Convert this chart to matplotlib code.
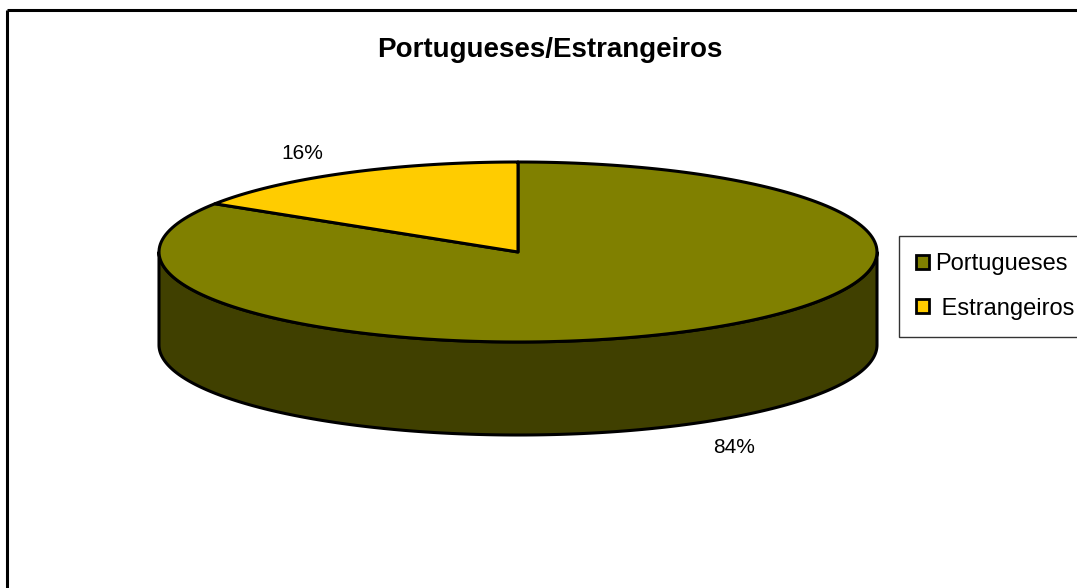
import numpy as np
import matplotlib.pyplot as plt
from matplotlib.patches import Polygon, Patch

# ----- data -----
labels = ["Portugueses", " Estrangeiros"]
values = [84, 16]
colors = ["#808000", "#FFCC00"]
side_colors = ["#404000", "#806600"]
title = "Portugueses/Estrangeiros"

plt.rcParams["font.family"] = ["Liberation Sans", "DejaVu Sans"]

W, H = 1077, 588
fig = plt.figure(figsize=(W / 100, H / 100), dpi=100)
ax = fig.add_axes([0, 0, 1, 1])
ax.set_xlim(0, W)
ax.set_ylim(H, 0)
ax.axis("off")

# pie geometry (pixels)
cx, cy = 518, 252
a, b = 359, 90
depth = 93
lw = 2.2


def arc(t1, t2, n=200, dy=0):
    t = np.radians(np.linspace(t1, t2, n))
    return np.column_stack([cx + a * np.cos(t), cy - b * np.sin(t) + dy])


# slices go clockwise from 12 o'clock
total = float(sum(values))
start = 90.0
slices = []
for v in values:
    sweep = 360.0 * v / total
    slices.append((start - sweep, start))
    start -= sweep

# side walls (front half only)
for (t1, t2), sc in zip(slices, side_colors):
    for k in range(-2, 3):
        lo, hi = max(t1, 180 + 360 * k), min(t2, 360 + 360 * k)
        if hi <= lo:
            continue
        top = arc(lo, hi)
        bot = arc(hi, lo, dy=depth)
        ax.add_patch(Polygon(np.vstack([top, bot]), closed=True, facecolor=sc,
                             edgecolor="black", lw=lw, joinstyle="round", zorder=2))

# top faces
for (t1, t2), c in zip(slices, colors):
    pts = np.vstack([[cx, cy], arc(t1, t2)])
    ax.add_patch(Polygon(pts, closed=True, facecolor=c, edgecolor="black",
                         lw=lw, joinstyle="round", zorder=3))

# percentage labels
for (t1, t2), v in zip(slices, values):
    mid = np.radians((t1 + t2) / 2)
    k = 1.25
    x = cx + k * a * np.cos(mid)
    y = cy - k * b * np.sin(mid)
    if np.sin(mid) < 0:
        y += depth + 4
    ax.text(x, y, f"{v / total * 100:.0f}%", ha="center", va="center", fontsize=15, zorder=4)

# title
fig.text(550 / W, 1 - 50 / H, title, ha="center", va="center", fontsize=20, fontweight="bold")

# chart frame (cropped: only top and left visible)
ax.plot([7, W + 5], [10, 10], color="black", lw=2.2, solid_capstyle="butt", zorder=5)
ax.plot([7, 7], [10, H + 5], color="black", lw=2.2, solid_capstyle="butt", zorder=5)

# legend
handles = [Patch(facecolor=c, edgecolor="black", lw=2) for c in colors]
leg = fig.legend(handles, labels, loc="upper left", bbox_to_anchor=(899 / W, 1 - 236 / H),
                 fontsize=17, frameon=True, fancybox=False, edgecolor="black",
                 handlelength=0.55, handleheight=0.55, handletextpad=0.25,
                 labelspacing=0.96, borderpad=0.72, borderaxespad=0)
leg.get_frame().set_linewidth(1.0)

fig.savefig("out.png", dpi=100)
